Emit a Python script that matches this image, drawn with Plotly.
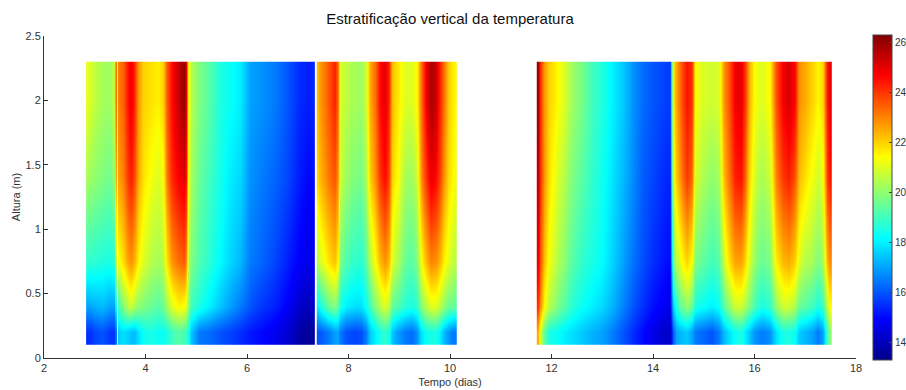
import plotly.graph_objects as go

# ---------------- data ----------------
alturas = [0.2, 0.4, 0.75, 1.4, 2.0]          # sensor heights (m)

tempo = [
    2.85, 2.89, 3.00, 3.15, 3.30, 3.38, 3.41, 3.425,
    3.46, 3.47, 3.55, 3.65, 3.72, 3.78, 3.85, 3.95, 4.10, 4.25, 4.35, 4.42, 4.52, 4.65,
    4.75, 4.80, 4.84, 4.90, 5.05, 5.25, 5.45, 5.65, 5.85, 6.05, 6.30, 6.55, 6.80, 7.00,
    7.20, 7.32, 7.335,
    7.385, 7.405, 7.50, 7.62, 7.72, 7.78, 7.83, 7.95, 8.10, 8.25, 8.35, 8.42, 8.52, 8.62,
    8.72, 8.80, 8.86, 8.95, 9.10, 9.25, 9.35, 9.42, 9.52, 9.62, 9.72, 9.80, 9.88, 9.97,
    10.05, 10.10,
    11.73, 11.77, 11.85, 11.95, 12.10, 12.25, 12.40, 12.60, 12.80, 13.00, 13.20, 13.40,
    13.60, 13.80, 14.00, 14.20, 14.34, 14.38, 14.45, 14.55, 14.67, 14.76, 14.82, 14.95,
    15.15, 15.30, 15.40, 15.50, 15.62, 15.72, 15.80, 15.88, 16.00, 16.15, 16.30, 16.42,
    16.55, 16.68, 16.80, 16.88, 17.00, 17.12, 17.25, 17.35, 17.42, 17.47, 17.50,
]

temp_z200 = [
    21.2, 21.0, 20.6, 20.3, 20.2, 20.8, 22.8, 23.2,
    23.0, 23.1, 23.4, 24.5, 24.9, 24.3, 22.8, 22.0, 21.8, 21.6, 22.0, 23.6, 24.6, 25.5,
    26.0, 25.3, 21.8, 20.5, 19.8, 19.3, 18.6, 18.3, 18.0, 17.0, 16.8, 16.5, 16.0, 15.5,
    15.3, 15.4, 15.4,
    22.3, 22.6, 23.0, 23.6, 24.3, 23.2, 21.0, 20.6, 20.3, 20.2, 20.8, 22.5, 23.2, 24.6,
    25.0, 24.2, 22.3, 21.8, 21.0, 21.0, 21.5, 23.2, 24.8, 25.8, 25.3, 24.2, 23.2, 22.0,
    21.6, 21.5,
    26.0, 24.2, 22.8, 22.0, 21.5, 21.0, 20.2, 19.7, 19.0, 18.6, 18.0, 17.5,
    16.8, 16.3, 16.0, 15.8, 15.6, 21.5, 22.5, 23.5, 24.5, 24.0, 21.5, 21.0,
    20.8, 21.0, 22.8, 23.6, 24.8, 25.0, 24.0, 22.5, 21.3, 21.0, 21.5, 23.6,
    24.8, 25.2, 24.6, 22.8, 22.5, 22.0, 21.5, 22.0, 24.3, 24.8, 25.0,
]

temp_z140 = [
    20.3, 20.2, 20.0, 19.8, 19.6, 20.2, 22.0, 22.5,
    22.6, 22.7, 23.0, 24.0, 24.3, 23.8, 22.6, 21.8, 21.3, 21.0, 21.3, 23.2, 24.2, 24.8,
    25.0, 24.6, 21.5, 20.3, 19.5, 19.0, 18.5, 18.0, 17.7, 16.8, 16.5, 16.2, 15.8, 15.3,
    15.0, 15.1, 15.1,
    22.0, 22.2, 22.6, 23.2, 23.6, 22.8, 20.8, 20.2, 19.8, 19.7, 20.3, 22.0, 22.8, 24.0,
    24.6, 23.8, 22.0, 21.5, 20.3, 20.2, 20.8, 22.8, 24.0, 25.0, 24.6, 23.8, 22.8, 21.8,
    21.5, 21.3,
    25.5, 24.2, 22.8, 21.8, 21.0, 20.5, 19.8, 19.3, 18.8, 18.4, 17.8, 17.3,
    16.7, 16.1, 15.8, 15.5, 15.3, 21.0, 22.0, 23.0, 24.0, 23.3, 21.0, 20.5,
    20.0, 20.3, 22.3, 23.2, 24.3, 24.5, 23.5, 22.0, 20.8, 20.3, 20.8, 23.0,
    24.0, 24.3, 23.6, 22.3, 21.8, 21.3, 20.8, 21.3, 23.8, 24.3, 24.5,
]

temp_z075 = [
    18.8, 18.8, 18.7, 18.6, 18.5, 18.8, 20.3, 20.8,
    21.3, 21.4, 21.8, 22.6, 22.8, 22.5, 21.6, 21.0, 20.5, 20.3, 20.5, 21.8, 22.8, 23.3,
    23.5, 23.0, 20.8, 19.8, 19.2, 18.7, 18.2, 17.7, 17.3, 16.5, 16.2, 15.8, 15.3, 14.9,
    14.6, 14.8, 14.8,
    20.5, 20.8, 21.2, 21.8, 22.2, 21.5, 19.8, 19.2, 18.8, 18.7, 19.3, 20.5, 21.3, 22.3,
    22.8, 22.3, 21.0, 20.5, 19.5, 19.3, 19.8, 21.3, 22.3, 23.0, 22.8, 22.3, 21.6, 21.0,
    20.7, 20.5,
    25.0, 23.8, 22.3, 21.3, 20.5, 20.0, 19.3, 18.8, 18.5, 18.2, 17.6, 17.0,
    16.4, 15.9, 15.5, 15.2, 15.0, 19.5, 20.5, 21.3, 22.0, 21.3, 19.8, 19.5,
    19.0, 19.3, 20.8, 21.8, 22.6, 22.6, 22.0, 21.0, 20.0, 19.5, 19.8, 21.6,
    22.3, 22.5, 22.0, 21.0, 20.5, 20.3, 19.8, 20.3, 22.3, 22.8, 23.0,
]

temp_z040 = [
    17.0, 17.0, 17.2, 17.3, 17.0, 17.0, 18.0, 18.3,
    19.0, 19.1, 19.8, 20.5, 20.8, 20.3, 20.0, 19.8, 19.5, 19.3, 19.5, 20.3, 21.0, 21.5,
    21.3, 21.0, 20.0, 19.0, 18.5, 18.0, 17.5, 17.0, 16.5, 16.0, 15.6, 15.3, 14.8, 14.3,
    14.0, 14.3, 14.3,
    18.0, 18.2, 18.8, 19.5, 19.8, 19.3, 18.5, 18.0, 17.8, 17.8, 18.3, 19.0, 19.8, 20.5,
    21.0, 20.5, 19.5, 19.2, 18.7, 18.5, 18.8, 19.8, 20.5, 21.0, 21.0, 20.5, 20.0, 19.5,
    19.5, 19.3,
    24.0, 23.0, 21.5, 20.5, 19.8, 19.3, 18.7, 18.3, 18.0, 17.7, 17.2, 16.6,
    16.0, 15.5, 15.1, 14.8, 14.6, 17.5, 18.5, 19.5, 20.0, 19.5, 18.5, 18.3,
    18.0, 18.3, 19.3, 20.0, 20.8, 20.8, 20.3, 19.8, 19.0, 18.5, 18.8, 20.0,
    20.8, 20.8, 20.3, 19.5, 19.3, 19.0, 18.5, 19.0, 20.5, 21.3, 21.5,
]

temp_z020 = [
    15.5, 15.5, 15.8, 16.0, 15.6, 15.6, 16.2, 16.5,
    17.5, 17.6, 17.8, 17.6, 17.4, 17.3, 17.8, 18.3, 18.5, 18.3, 18.3, 18.5, 19.0, 19.3,
    19.0, 19.0, 18.5, 17.5, 16.5, 16.3, 16.0, 15.8, 15.5, 15.2, 15.0, 14.7, 14.3, 13.8,
    13.5, 13.8, 13.9,
    16.0, 16.0, 16.2, 16.5, 17.0, 17.0, 16.5, 16.0, 15.8, 15.9, 16.5, 17.5, 18.0, 18.5,
    18.8, 18.5, 17.5, 17.0, 16.5, 16.3, 16.8, 17.8, 18.3, 18.5, 18.5, 18.0, 17.3, 16.8,
    16.5, 16.5,
    22.5, 21.0, 19.5, 18.5, 18.3, 18.0, 17.8, 17.5, 17.2, 17.0, 16.5, 16.0,
    15.5, 15.0, 14.6, 14.3, 14.2, 16.0, 17.0, 17.3, 17.5, 17.0, 16.5, 16.3,
    16.0, 16.5, 17.3, 17.8, 18.3, 18.5, 18.0, 17.5, 16.8, 16.5, 16.8, 17.8,
    18.5, 18.5, 18.3, 17.5, 17.3, 17.0, 16.5, 17.0, 19.0, 19.8, 20.0,
]

interrupcoes = [3.44, 7.36, 10.9]   # data interruptions (days)

x_ticks = [2, 4, 6, 8, 10, 12, 14, 16, 18]
y_ticks = [0, 0.5, 1, 1.5, 2, 2.5]
cbar_ticks = [14, 16, 18, 20, 22, 24, 26]
t_min, t_max = 13.3, 26.3

# ---------------- figure ----------------
jet = [
    [0.0, "rgb(0,0,135)"],
    [0.125, "rgb(0,0,255)"],
    [0.375, "rgb(0,255,255)"],
    [0.625, "rgb(255,255,0)"],
    [0.875, "rgb(255,0,0)"],
    [1.0, "rgb(128,0,0)"],
]

niveis = [temp_z020, temp_z040, temp_z075, temp_z140, temp_z200]

# split the series into continuous segments at the interruptions
segmentos = []
inicio = 0
for i in range(1, len(tempo)):
    if any(tempo[i - 1] < b < tempo[i] for b in interrupcoes):
        segmentos.append((inicio, i))
        inicio = i
segmentos.append((inicio, len(tempo)))

FONT = "Liberation Sans, Arial, sans-serif"

fig = go.Figure()
for k, (a, b) in enumerate(segmentos):
    fig.add_trace(go.Heatmap(
        x=tempo[a:b],
        y=alturas,
        z=[nivel[a:b] for nivel in niveis],
        zmin=t_min, zmax=t_max,
        colorscale=jet,
        zsmooth="best",
        showscale=(k == 0),
        colorbar=dict(
            x=1.0209, xanchor="left", xpad=0,
            y=0.497, yanchor="middle", len=1.009, lenmode="fraction", ypad=0,
            thickness=19, thicknessmode="pixels",
            outlinewidth=1, outlinecolor="#444",
            tickvals=cbar_ticks, ticks="inside", ticklen=3, tickcolor="#444",
            tickfont=dict(family=FONT, size=10, color="#333"),
        ),
        hoverinfo="skip",
    ))

axis_font = dict(family=FONT, size=11, color="#333")

fig.update_layout(
    width=906, height=390,
    margin=dict(l=44, r=50, t=36, b=32, pad=0, autoexpand=False),
    paper_bgcolor="white", plot_bgcolor="white",
    title=dict(
        text="Estratificação vertical da temperatura",
        x=0.5, xref="paper", xanchor="center",
        y=1 - 19 / 390, yref="container", yanchor="middle",
        font=dict(family=FONT, size=15, color="#111"),
    ),
    xaxis=dict(
        range=[2, 18], tickmode="array", tickvals=x_ticks,
        ticks="inside", ticklen=4, tickcolor="#333",
        showline=True, linecolor="#333", linewidth=1, mirror=False,
        showgrid=False, zeroline=False, tickfont=axis_font,
        title=dict(text="Tempo (dias)", font=dict(family=FONT, size=11, color="#333"), standoff=5),
        automargin=False,
    ),
    yaxis=dict(
        range=[0, 2.5], tickmode="array", tickvals=y_ticks,
        ticks="inside", ticklen=4, tickcolor="#333",
        showline=True, linecolor="#333", linewidth=1, mirror=False,
        showgrid=False, zeroline=False, tickfont=axis_font,
        title=dict(text="Altura (m)", font=dict(family=FONT, size=11, color="#333"), standoff=2),
        automargin=False,
    ),
)

fig.write_html("out.html")
